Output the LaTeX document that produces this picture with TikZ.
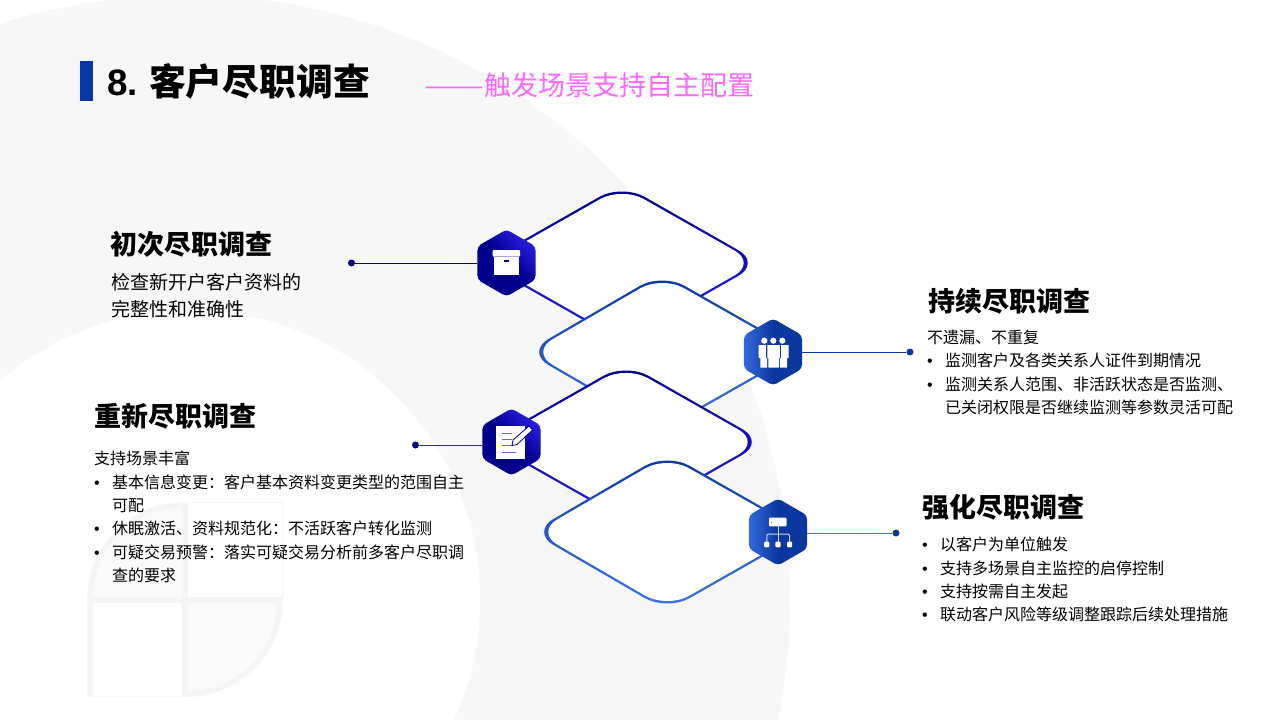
\documentclass[tikz,border=0pt]{standalone}
\usepackage{graphicx}
\usepackage{fontspec}
\setmainfont{Noto Sans CJK SC}
\newfontfamily\latinfont{Liberation Sans}
\usetikzlibrary{shapes.geometric}
\definecolor{ringgray}{HTML}{F7F7F7}
\definecolor{logogray}{HTML}{F5F5F5}
\definecolor{logolight}{HTML}{FAFAFA}
\definecolor{barblue}{HTML}{0A36A6}
\definecolor{subpink}{HTML}{FF66FF}
\definecolor{navydark}{HTML}{00008C}
\definecolor{navylight}{HTML}{2A1DE0}
\definecolor{bluedark}{HTML}{0A36A0}
\definecolor{bluelight}{HTML}{3F76EA}
\newcommand{\bl}{\makebox[18pt][l]{\latinfont •}}
\newcommand{\blb}{\makebox[18pt][l]{}}
\tikzset{
	hexnavy/.style={
		regular polygon,
		regular polygon sides=6,
		shape border rotate=30,
		minimum size=67pt,
		inner sep=0pt,
		rounded corners=4pt,
		left color=navylight,
		right color=navydark,
		middle color=navydark,
		shading angle=-45},
	hexblue/.style={
		hexnavy,
		left color=bluelight!80!bluedark,
		right color=bluedark,
		middle color=bluedark},
	dotnavy/.style={
		circle,
		fill=navydark,
		minimum size=7pt,
		inner sep=0pt},
	dotblue/.style={
		dotnavy,
		fill=bluedark},
	headtext/.style={
		anchor=west,
		inner sep=0pt,
		font=\fontsize{27}{30}\selectfont\bfseries},
	bodytext/.style={
		anchor=north west,
		inner sep=0pt,
		align=left,
		font=\fontsize{16}{23.3}\selectfont},
	leadtext/.style={
		bodytext,
		font=\fontsize{19}{27}\selectfont}
}
\begin{document}
\begin{tikzpicture}[x=1pt,y=-1pt]
\useasboundingbox (0,0) rectangle (1280,720);
% background
\fill[white] (0,0) rectangle (1280,720);
\begin{scope}
\clip (0,0) rectangle (1280,720);
\fill[ringgray] (185,600) circle (605);
\fill[white] (190,600) circle (290);
\end{scope}
% logo
\fill[logogray] (87,697) -- (87,600) .. controls (87,546) and (131,502) .. (185,502) -- (283,502) -- (283,600) .. controls (283,654) and (239,697) .. (185,697) -- cycle;
\fill[white] (93,603) rectangle (182,696);
\fill[white] (188,503) rectangle (282,597);
\fill[logolight] (93,597) .. controls (93,549) and (134,508) .. (182,508) -- (182,597) -- cycle;
\fill[logolight] (188,603) -- (277,603) .. controls (277,651) and (236,691) .. (188,691) -- cycle;
% title
\node[fill=barblue, minimum width=13pt, minimum height=40pt, inner sep=0pt] (bar) at (86.5,81) {};
\node[anchor=west, inner sep=0pt, font=\fontsize{36.8}{40}\selectfont\bfseries] (title) at (107,81) {{\latinfont 8. }\hspace{-2.5pt}客户尽职调查};
\node[anchor=west, inner sep=0pt, text=subpink, font=\fontsize{27}{30}\selectfont] (subtitle) at (424.5,85) {\scalebox{1.32}[1]{——}触发场景支持自主配置};
% diamonds
\shade[top color=navydark, bottom color=navylight, rounded corners=26pt] (483,263) -- (622,184) -- (761,263) -- (622,342) -- cycle;
\fill[white, rounded corners=25pt] (487.6,263) -- (622,186.7) -- (756.4,263) -- (622,339.3) -- cycle;
\shade[top color=bluedark, bottom color=bluelight, rounded corners=26pt] (526,352) -- (662,273) -- (801,352) -- (662,431) -- cycle;
\fill[white, rounded corners=25pt] (530.6,352) -- (662,275.7) -- (796.4,352) -- (662,428.3) -- cycle;
\shade[top color=navydark, bottom color=navylight, rounded corners=26pt] (487,442) -- (626,363) -- (765,442) -- (626,521) -- cycle;
\fill[white, rounded corners=25pt] (491.6,442) -- (626,365.7) -- (760.4,442) -- (626,518.3) -- cycle;
\shade[top color=bluedark, bottom color=bluelight, rounded corners=26pt] (531,532) -- (667,453) -- (806,532) -- (667,611) -- cycle;
\fill[white, rounded corners=25pt] (535.6,532) -- (667,455.7) -- (801.4,532) -- (667,608.3) -- cycle;
% dots and hexagons
\node[dotnavy] (dotfirst) at (351.5,263) {};
\node[dotblue] (dotongoing) at (910,352) {};
\node[dotnavy] (dotrenew) at (415.5,445) {};
\node[dotblue] (dotstrong) at (896,533) {};
\node[hexnavy] (hexfirst) at (506.5,263) {};
\node[hexblue] (hexongoing) at (773,352) {};
\node[hexnavy] (hexrenew) at (511.5,442) {};
\node[hexblue] (hexstrong) at (778,532) {};
\draw[navydark] (dotfirst) -- (hexfirst);
\draw[bluedark] (dotongoing) -- (hexongoing);
\draw[navylight] (dotrenew) -- (dotrenew -| hexrenew.west);
\draw[bluelight] (dotstrong) -- (dotstrong -| hexstrong.east);
% icon box
\fill[white, rounded corners=0.8pt] (492.7,250) rectangle (520,256.7);
\fill[white] (494,257.4) rectangle (519.3,275);
\fill[navydark] (504,260.4) rectangle (509.3,261.6);
% icon people
\fill[white] (764.3,340.7) circle (3.1) (773.3,340.7) circle (3.1) (782.3,340.7) circle (3.1);
\fill[white] (767.4,345) -- (779.8,345) -- (779.8,358) -- (779,358) -- (779,367.5) -- (768.4,367.5) -- (768.4,358) -- (767.4,358) -- cycle;
\fill[white] (758.5,345) -- (765.9,345) -- (765.9,358) -- (767.2,358) -- (767.2,367.5) -- (760.3,367.5) -- (760.3,358) -- (758.5,358) -- cycle;
\fill[white] (781.2,345) -- (788.5,345) -- (788.5,358) -- (787,358) -- (787,367.5) -- (780.1,367.5) -- (780.1,358) -- (781.2,358) -- cycle;
% icon note
\fill[white] (496,426) rectangle (524.5,459);
\draw[navylight!70!white, line width=1pt] (502,433.5) -- (512,433.5) (502,439.5) -- (512,439.5) (502,445.5) -- (512,445.5) (502,452.5) -- (516,452.5);
\fill[white, draw=navydark, line width=0.8pt] (512,445.5) -- (513,440) -- (529,426) -- (532.5,430) -- (517,444.5) -- cycle;
% icon tree
\fill[white, rounded corners=1pt] (769,517.7) rectangle (786.5,526.3);
\fill[navydark] (771.3,522.3) circle (0.5);
\draw[white!80!bluedark, line width=1pt] (778,526) -- (778,543);
\draw[white!80!bluedark, line width=1pt, rounded corners=2pt] (766.8,543) -- (766.8,534) -- (789.5,534) -- (789.5,543);
\fill[white, rounded corners=1pt] (764.2,541.7) rectangle (769.4,547.3) (775.4,541.7) rectangle (780.6,547.3) (787,541.7) rectangle (792.2,547.3);
% texts
\node[headtext] (headfirst) at (110,244) {初次尽职调查};
\node[leadtext] (bodyfirst) at (111,273.5) {检查新开户客户资料的\\完整性和准确性};
\node[headtext] (headongoing) at (928,301) {持续尽职调查};
\node[bodytext] (bodyongoing) at (927,330) {不遗漏、不重复\\\bl 监测客户及各类关系人证件到期情况\\\bl 监测关系人范围、非活跃状态是否监测、\\\blb 已关闭权限是否继续监测等参数灵活可配};
\node[headtext] (headrenew) at (94,416) {重新尽职调查};
\node[bodytext] (bodyrenew) at (94,451) {支持场景丰富\\\bl 基本信息变更：客户基本资料变更类型的范围自主\\\blb 可配\\\bl 休眠激活、资料规范化：不活跃客户转化监测\\\bl 可疑交易预警：落实可疑交易分析前多客户尽职调\\\blb 查的要求};
\node[headtext] (headstrong) at (922,507) {强化尽职调查};
\node[bodytext] (bodystrong) at (922,537) {\bl 以客户为单位触发\\\bl 支持多场景自主监控的启停控制\\\bl 支持按需自主发起\\\bl 联动客户风险等级调整跟踪后续处理措施};
\end{tikzpicture}
\end{document}
